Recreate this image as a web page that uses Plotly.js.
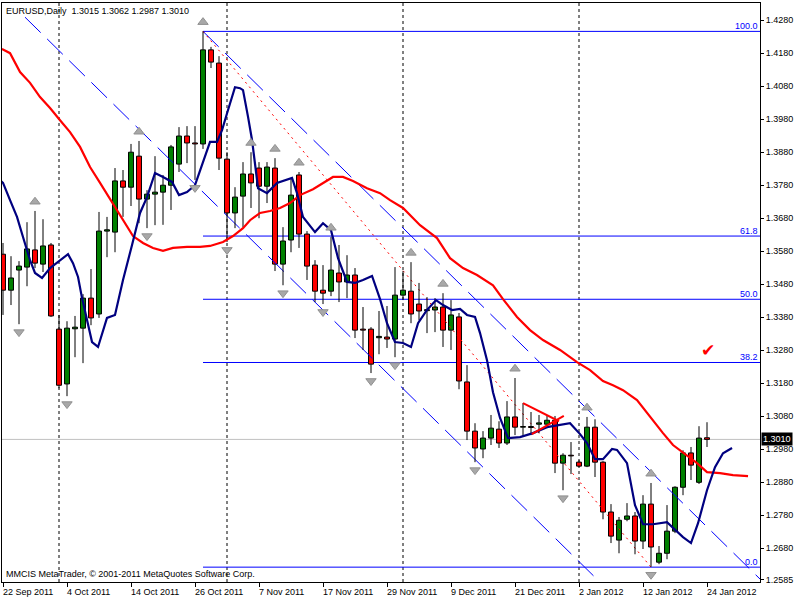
<!DOCTYPE html>
<html><head><meta charset="utf-8">
<script src="https://cdn.plot.ly/plotly-3.0.1.min.js"></script>
<style>html,body{margin:0;padding:0;background:#fff}#chart{width:800px;height:600px}</style>
</head><body><div id="chart"></div>
<script>
// ---- data ----
const dateLabels = ['22 Sep 2011','4 Oct 2011','14 Oct 2011','26 Oct 2011','7 Nov 2011','17 Nov 2011','29 Nov 2011','9 Dec 2011','21 Dec 2011','2 Jan 2012','12 Jan 2012','24 Jan 2012'];
const labelBars = [0,8,16,24,32,40,48,56,64,72,80,88];
const separatorBars = [7,28,50,72];

const openP  = [1.3571,1.3462,1.3523,1.3532,1.3584,1.3541,1.3599,1.3344,1.3178,1.3345,1.3347,1.3438,1.3390,1.3641,1.3638,1.3793,1.3774,1.3868,1.3738,1.3753,1.3759,1.3780,1.3844,1.3929,1.3908,1.3905,1.4190,1.4150,1.3859,1.3696,1.3747,1.3814,1.3832,1.3777,1.3832,1.3541,1.3614,1.3811,1.3632,1.3538,1.3462,1.3459,1.3514,1.3487,1.3508,1.3344,1.3344,1.3318,1.3320,1.3314,1.3447,1.3459,1.3420,1.3400,1.3402,1.3411,1.3341,1.3381,1.3184,1.3035,1.2981,1.3014,1.3041,1.2999,1.3078,1.3047,1.3049,1.3056,1.3056,1.3068,1.2938,1.2962,1.2941,1.2929,1.3047,1.2941,1.2790,1.2705,1.2768,1.2778,1.2702,1.2814,1.2638,1.2665,1.2732,1.2865,1.2969,1.2880,1.3015];
const highP  = [1.3605,1.3565,1.3550,1.3668,1.3702,1.3677,1.3605,1.3387,1.3368,1.3384,1.3450,1.3526,1.3699,1.3684,1.3832,1.3826,1.3905,1.3914,1.3765,1.3868,1.3811,1.3902,1.3956,1.3959,1.3959,1.4246,1.4199,1.4171,1.3880,1.3774,1.3850,1.3880,1.3850,1.3850,1.3862,1.3653,1.3802,1.3820,1.3641,1.3553,1.3538,1.3623,1.3599,1.3568,1.3529,1.3411,1.3350,1.3399,1.3414,1.3532,1.3520,1.3547,1.3484,1.3441,1.3438,1.3453,1.3432,1.3393,1.3235,1.3059,1.3035,1.3084,1.3065,1.3126,1.3196,1.3120,1.3093,1.3084,1.3081,1.3081,1.2968,1.3002,1.2947,1.3078,1.3071,1.2944,1.2814,1.2775,1.2817,1.2790,1.2841,1.2878,1.2687,1.2811,1.2868,1.2977,1.2987,1.3050,1.3062];
const lowP   = [1.3387,1.3417,1.3359,1.3474,1.3529,1.3517,1.3381,1.3165,1.3141,1.3259,1.3241,1.3356,1.3378,1.3562,1.3577,1.3684,1.3717,1.3665,1.3650,1.3659,1.3660,1.3705,1.3820,1.3847,1.3796,1.3890,1.4135,1.3826,1.3608,1.3650,1.3653,1.3711,1.3680,1.3726,1.3520,1.3477,1.3577,1.3590,1.3493,1.3426,1.3420,1.3444,1.3426,1.3438,1.3317,1.3281,1.3211,1.3268,1.3287,1.3259,1.3432,1.3362,1.3371,1.3332,1.3335,1.3290,1.3281,1.3162,1.3008,1.2941,1.2953,1.2993,1.2984,1.2993,1.3023,1.3020,1.3023,1.3029,1.3044,1.2908,1.2856,1.2905,1.2926,1.2926,1.2896,1.2768,1.2696,1.2665,1.2762,1.2662,1.2678,1.2624,1.2632,1.2647,1.2726,1.2841,1.2887,1.2875,1.2987];
const closeP = [1.3462,1.3499,1.3535,1.3587,1.3544,1.3596,1.3384,1.3174,1.3347,1.3350,1.3438,1.3378,1.3641,1.3645,1.3793,1.3774,1.3880,1.3738,1.3753,1.3759,1.3780,1.3896,1.3929,1.3908,1.3905,1.4190,1.4153,1.3862,1.3696,1.3744,1.3814,1.3787,1.3777,1.3835,1.3541,1.3611,1.3750,1.3632,1.3535,1.3459,1.3453,1.3523,1.3487,1.3508,1.3341,1.3341,1.3238,1.3322,1.3314,1.3447,1.3462,1.3390,1.3399,1.3403,1.3411,1.3341,1.3387,1.3187,1.3035,1.2984,1.3014,1.3044,1.2999,1.3078,1.3047,1.3049,1.3046,1.3060,1.3068,1.2938,1.2962,1.2960,1.2929,1.3047,1.2941,1.2790,1.2717,1.2765,1.2778,1.2702,1.2814,1.2684,1.2665,1.2732,1.2865,1.2969,1.2932,1.3014,1.3010];

const redMaX = [-0.13,0.88,2.13,3.38,4.63,5.88,7.13,8.38,9.63,10.88,12.13,13.38,14.63,15.5,16.25,17.5,18.75,20,21.25,23,24.63,25.88,27.5,28.75,30,30.88,32.13,33.38,34.63,35.88,37.13,38.75,40.5,41.25,42.5,43.75,45.5,47.13,48.38,50,52.13,54.25,55.88,57.5,59.25,61.25,62.5,64.25,65.88,67.5,69.63,71.75,73.38,75,76.25,77.5,79.25,80.88,82.5,83.75,85,86.75,88,89.63,91.25,93.13];
const redMaY = [1.4193,1.4180,1.4123,1.4090,1.4047,1.4014,1.3977,1.3941,1.3896,1.3835,1.3787,1.3738,1.3687,1.3653,1.3626,1.3605,1.3590,1.3581,1.3590,1.3593,1.3593,1.3596,1.3608,1.3626,1.3650,1.3674,1.3696,1.3702,1.3711,1.3726,1.3750,1.3768,1.3793,1.3805,1.3805,1.3793,1.3771,1.3756,1.3735,1.3711,1.3659,1.3620,1.3559,1.3529,1.3508,1.3477,1.3435,1.3381,1.3341,1.3311,1.3281,1.3244,1.3220,1.3187,1.3174,1.3159,1.3129,1.3078,1.3029,1.2993,1.2971,1.2938,1.2911,1.2908,1.2902,1.2899];

const blueMaX = [-0.38,0,0.88,1.75,2.5,3.38,4,4.88,5.88,6.88,8.13,8.75,9.38,9.88,10.5,11.13,11.88,13,14,15,16.13,17.13,18,19,20,21.13,22,23,24,24.88,25.88,26.75,27.38,28.13,29,29.63,30,30.63,31.13,31.88,33,34.25,36.13,36.75,37.5,39,40,41,41.88,43,44,45,46.13,47.13,48,49,50,51,51.88,53,54.13,55,56.13,57.13,58,59,59.63,60.5,61.25,62.13,63.13,64.63,66.25,68,69.63,70.88,72.13,73,74,75,76.13,76.75,78,79,80,81.25,83,84,85,86,86.88,88,89,90,91.13];
const blueMaY = [1.3796,1.3787,1.3735,1.3684,1.3623,1.3553,1.3514,1.3499,1.3529,1.3547,1.3571,1.3544,1.3502,1.3438,1.3371,1.3305,1.3290,1.3378,1.3387,1.3493,1.3599,1.3696,1.3744,1.3817,1.3805,1.3790,1.3750,1.3759,1.3780,1.3841,1.3911,1.3911,1.3947,1.4008,1.4077,1.4074,1.4068,1.3987,1.3917,1.3771,1.3756,1.3787,1.3802,1.3756,1.3684,1.3638,1.3665,1.3644,1.3559,1.3487,1.3484,1.3493,1.3505,1.3435,1.3362,1.3305,1.3302,1.3290,1.3362,1.3402,1.3432,1.3417,1.3402,1.3405,1.3387,1.3381,1.3332,1.3250,1.3153,1.3075,1.3014,1.3017,1.3029,1.3047,1.3053,1.3059,1.3026,1.2999,1.2950,1.2950,1.2981,1.2978,1.2938,1.2811,1.2753,1.2753,1.2759,1.2735,1.2714,1.2696,1.2756,1.2856,1.2926,1.2968,1.2984];

const channelLowerX = [2.75, 74.6];
const channelLowerY = [1.4289, 1.2578];
const channelUpperX = [25, 94.625];
const channelUpperY = [1.4246, 1.2587];

const fibAnchorX = [25, 81];
const fibAnchorY = [1.4246, 1.2623];
const fibLevels = [0.0, 38.2, 50.0, 61.8, 100.0];

const triUpperX = [65, 69.5];
const triUpperY = [1.3120, 1.3065];
const triLowerX = [66.1, 70.1];
const triLowerY = [1.3026, 1.3081];

const upFractalBars = [4,17,25,31,34,37,41,51,55,64,73,81];
const downFractalBars = [2,8,18,24,28,35,40,46,49,59,70,81];

const priceTicks = [1.4280,1.4180,1.4080,1.3980,1.3880,1.3780,1.3680,1.3580,1.3480,1.3380,1.3280,1.3180,1.3080,1.2980,1.2880,1.2780,1.2680,1.2585];
const symbolName = 'EURUSD,Daily';
const copyrightText = 'MMCIS MetaTrader, © 2001-2011 MetaQuotes Software Corp.';

// ---- build ----
const FONT = 'Liberation Sans, Arial, sans-serif';
const n = openP.length;
const barIndex = openP.map((_, i) => i);
const bodyBase = [], bodyH = [], bodyCol = [];
const wickX = [], wickY = [];
for (let i = 0; i < n; i++) {
  const top = Math.max(openP[i], closeP[i]);
  const bot = Math.min(openP[i], closeP[i]);
  bodyBase.push(bot);
  bodyH.push(Math.max(top - bot, 0.0002));
  bodyCol.push(closeP[i] > openP[i] ? '#008000' : (closeP[i] < openP[i] ? '#ff0000' : '#000000'));
  wickX.push(i, i, null, i, i, null);
  wickY.push(highP[i], top, null, bot, lowP[i], null);
}
const last = n - 1;

const traces = [
  {type:'scatter', mode:'lines', x:channelLowerX, y:channelLowerY, line:{color:'#0000ff', width:1, dash:'22px,9px'}, hoverinfo:'skip'},
  {type:'scatter', mode:'lines', x:channelUpperX, y:channelUpperY, line:{color:'#0000ff', width:1, dash:'22px,9px'}, hoverinfo:'skip'},
  {type:'scatter', mode:'lines', x:fibAnchorX, y:fibAnchorY, line:{color:'#ff0000', width:1, dash:'2px,4px'}, hoverinfo:'skip'},
  {type:'scatter', mode:'lines', x:wickX, y:wickY, line:{color:'#000', width:1}, hoverinfo:'skip', connectgaps:false},
  {type:'bar', x:barIndex, y:bodyH, base:bodyBase, width:0.62, marker:{color:bodyCol, line:{color:'#000', width:1}}, hoverinfo:'skip'},
  {type:'scatter', mode:'lines', x:redMaX, y:redMaY, line:{color:'#ff0000', width:2.2}, hoverinfo:'skip'},
  {type:'scatter', mode:'lines', x:blueMaX, y:blueMaY, line:{color:'#000080', width:2.2}, hoverinfo:'skip'},
  {type:'scatter', mode:'lines', x:triUpperX, y:triUpperY, line:{color:'#ff0000', width:2}, hoverinfo:'skip'},
  {type:'scatter', mode:'lines', x:triLowerX, y:triLowerY, line:{color:'#ff0000', width:2}, hoverinfo:'skip'},
  {type:'scatter', mode:'markers', x:upFractalBars, y:upFractalBars.map(k => highP[k] + 0.0028),
   marker:{symbol:'triangle-up', size:9, color:'#a8a8a8', line:{width:1, color:'#909090'}}, hoverinfo:'skip'},
  {type:'scatter', mode:'markers', x:downFractalBars, y:downFractalBars.map(k => lowP[k] - 0.0024),
   marker:{symbol:'triangle-down', size:9, color:'#a8a8a8', line:{width:1, color:'#909090'}}, hoverinfo:'skip'}
];

const fibPrice = lv => fibAnchorY[1] + (fibAnchorY[0] - fibAnchorY[1]) * lv / 100;

const shapes = [];
separatorBars.forEach(k => shapes.push({type:'line', xref:'x', yref:'paper', x0:k, x1:k, y0:0, y1:1, line:{color:'#000', width:1, dash:'3px,3px'}, layer:'below'}));
fibLevels.forEach(lv => shapes.push({type:'line', xref:'x', yref:'y', x0:fibAnchorX[0], x1:94.625, y0:fibPrice(lv), y1:fibPrice(lv), line:{color:'#0000ff', width:1}, layer:'below'}));
shapes.push({type:'line', xref:'paper', yref:'y', x0:0, x1:1, y0:closeP[last], y1:closeP[last], line:{color:'#c0c0c0', width:1}, layer:'below'});

const annotations = [];
labelBars.forEach((k, i) => annotations.push({xref:'x', yref:'paper', x:k, y:0, xanchor:'left', yanchor:'top', yshift:-3, xshift:-2, showarrow:false, text:dateLabels[i], font:{family:FONT, size:9, color:'#000'}}));
fibLevels.forEach(lv => annotations.push({xref:'paper', yref:'y', x:1, y:fibPrice(lv), xanchor:'right', yanchor:'bottom', xshift:0, yshift:-2, showarrow:false, text:lv.toFixed(1), font:{family:FONT, size:9, color:'#0000ff'}}));
const nb = '\u00a0';
annotations.push({xref:'paper', yref:'paper', x:0, y:1, xanchor:'left', yanchor:'top', xshift:2, yshift:-1, showarrow:false,
  text: symbolName + nb + nb + [openP[last], highP[last], lowP[last], closeP[last]].map(v => v.toFixed(4)).join(nb), font:{family:FONT, size:9, color:'#000'}});
annotations.push({xref:'paper', yref:'paper', x:0, y:0, xanchor:'left', yanchor:'bottom', xshift:2, yshift:1, showarrow:false, text:copyrightText, font:{family:FONT, size:9, color:'#000'}});
annotations.push({xref:'paper', yref:'y', x:1, y:closeP[last], xanchor:'left', yanchor:'middle', xshift:1, showarrow:false, text:closeP[last].toFixed(4), bgcolor:'#000', borderpad:1, font:{family:FONT, size:9, color:'#fff'}});
annotations.push({xref:'paper', yref:'paper', x:0.931, y:0.401, xanchor:'center', yanchor:'middle', showarrow:false, text:'\u2714', font:{family:'DejaVu Sans', size:17, color:'#ff0000'}});

const layout = {
  width:800, height:600,
  margin:{l:2, r:40, t:3, b:18, pad:0},
  paper_bgcolor:'#fff', plot_bgcolor:'#fff',
  showlegend:false, barmode:'overlay', hovermode:false,
  xaxis:{range:[-0.125, 94.625], showgrid:false, zeroline:false, showline:true, linecolor:'#000', linewidth:1, mirror:true,
         ticks:'outside', ticklen:4, tickcolor:'#000', tickvals:labelBars, showticklabels:false, fixedrange:true},
  yaxis:{side:'right', range:[1.2578, 1.4332], showgrid:false, zeroline:false, showline:true, linecolor:'#000', linewidth:1, mirror:true,
         ticks:'outside', ticklen:3, tickcolor:'#000', tickvals:priceTicks, ticktext:priceTicks.map(v => v.toFixed(4)),
         tickfont:{family:FONT, size:9, color:'#000'}, fixedrange:true},
  shapes:shapes, annotations:annotations
};
Plotly.newPlot('chart', traces, layout, {staticPlot:true, displayModeBar:false});
</script>
</body></html>
